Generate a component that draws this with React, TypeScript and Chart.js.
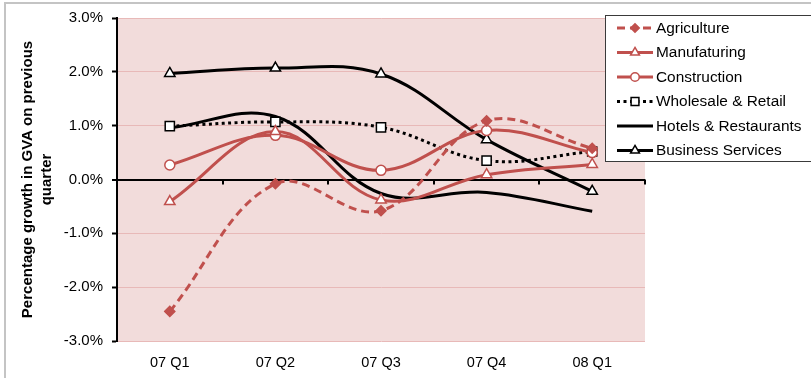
import React, { useEffect, useRef } from 'react';
import { Chart, registerables } from 'chart.js';

Chart.register(...registerables);

// Quarterly growth in gross value added, percent on previous quarter
const quarters = ['07 Q1', '07 Q2', '07 Q3', '07 Q4', '08 Q1'];
const agriculture = [-2.45, -0.08, -0.58, 1.09, 0.58];
const manufacturing = [-0.41, 0.89, -0.38, 0.09, 0.28];
const construction = [0.27, 0.82, 0.17, 0.91, 0.5];
const wholesaleRetail = [0.99, 1.07, 0.97, 0.35, 0.52];
const hotelsRestaurants = [0.96, 1.17, -0.26, -0.24, -0.59];
const businessServices = [1.97, 2.07, 1.96, 0.74, -0.22];

const yMin = -3;
const yMax = 3;
const yStep = 1;

const RED = '#c0504d';
const BLACK = '#000000';
const FONT = '"Liberation Sans", Arial, sans-serif';

type Marker = 'circle' | 'triangle' | 'rect' | 'rectRot' | false;

function drawMarker(
  ctx: CanvasRenderingContext2D,
  style: Marker,
  x: number,
  y: number,
  r: number,
  fill: string,
  stroke: string,
  lw: number
) {
  if (!style || r <= 0) return;
  ctx.save();
  ctx.setLineDash([]);
  ctx.beginPath();
  if (style === 'circle') {
    ctx.arc(x, y, r, 0, Math.PI * 2);
  } else if (style === 'triangle') {
    for (let k = 0; k < 3; k++) {
      const a = -Math.PI / 2 + (k * 2 * Math.PI) / 3;
      const px = x + Math.cos(a) * r;
      const py = y + Math.sin(a) * r;
      if (k === 0) ctx.moveTo(px, py);
      else ctx.lineTo(px, py);
    }
    ctx.closePath();
  } else if (style === 'rect') {
    const s = Math.SQRT1_2 * r;
    ctx.rect(x - s, y - s, 2 * s, 2 * s);
  } else if (style === 'rectRot') {
    ctx.moveTo(x, y - r);
    ctx.lineTo(x + r, y);
    ctx.lineTo(x, y + r);
    ctx.lineTo(x - r, y);
    ctx.closePath();
  }
  ctx.fillStyle = fill;
  ctx.fill();
  ctx.lineWidth = lw;
  ctx.strokeStyle = stroke;
  ctx.stroke();
  ctx.restore();
}

// Pink plot background and the light grey outer frame
const backgroundPlugin = {
  id: 'plotBackground',
  beforeDraw(chart: any) {
    const { ctx, chartArea } = chart;
    ctx.save();
    ctx.fillStyle = '#ffffff';
    ctx.fillRect(0, 0, chart.width, chart.height);
    ctx.strokeStyle = '#c4c4c4';
    ctx.lineWidth = 2;
    ctx.strokeRect(5, 3, chart.width + 100, chart.height + 100);
    ctx.fillStyle = '#f2dcdb';
    ctx.fillRect(chartArea.left, chartArea.top, chartArea.right - chartArea.left, chartArea.bottom - chartArea.top);
    ctx.restore();
  },
};

// Small tick marks hanging below the zero line between categories
const zeroTicksPlugin = {
  id: 'zeroTicks',
  beforeDatasetsDraw(chart: any) {
    const { ctx } = chart;
    const xs = chart.scales.x;
    const ys = chart.scales.y;
    const y0 = ys.getPixelForValue(0);
    const half = (xs.getPixelForValue(1) - xs.getPixelForValue(0)) / 2;
    ctx.save();
    ctx.strokeStyle = BLACK;
    ctx.lineWidth = 2;
    for (let i = 0; i < quarters.length; i++) {
      const x = Math.round(xs.getPixelForValue(i) + half);
      ctx.beginPath();
      ctx.moveTo(x, y0);
      ctx.lineTo(x, y0 + 5);
      ctx.stroke();
    }
    ctx.restore();
  },
};

// Boxed legend drawn over the top right of the plot
const legendPlugin = {
  id: 'boxLegend',
  afterDraw(chart: any) {
    const { ctx } = chart;
    const bx = 605.5;
    const by = 15.5;
    const bw = 220;
    const bh = 146;
    ctx.save();
    ctx.fillStyle = '#ffffff';
    ctx.fillRect(bx, by, bw, bh);
    ctx.strokeStyle = '#3a3a3a';
    ctx.lineWidth = 1;
    ctx.strokeRect(bx, by, bw, bh);
    chart.data.datasets.forEach((ds: any, i: number) => {
      const y = 28 + i * 24.5;
      ctx.beginPath();
      ctx.setLineDash(ds.borderDash || []);
      ctx.lineCap = 'butt';
      ctx.strokeStyle = ds.borderColor;
      ctx.lineWidth = ds.borderWidth;
      ctx.moveTo(617, y);
      ctx.lineTo(653, y);
      ctx.stroke();
      ctx.setLineDash([]);
      drawMarker(ctx, ds.pointStyle, 635, y, ds.pointRadius * 0.85, ds.pointBackgroundColor, ds.pointBorderColor, ds.pointBorderWidth);
      ctx.fillStyle = '#000000';
      ctx.font = `15.4px ${FONT}`;
      ctx.textBaseline = 'middle';
      ctx.textAlign = 'left';
      ctx.fillText(ds.label, 656, y + 0.5);
    });
    ctx.restore();
  },
};

function series(label: string, data: number[], color: string, style: Marker, radius: number, fill: string, dash: number[] = []) {
  return {
    label,
    data,
    borderColor: color,
    backgroundColor: color,
    borderWidth: 3,
    borderDash: dash,
    tension: 0.38,
    pointStyle: style || 'circle',
    pointRadius: style ? radius : 0,
    pointHoverRadius: style ? radius : 0,
    pointBackgroundColor: fill,
    pointBorderColor: color,
    pointBorderWidth: 1.5,
  };
}

export default function App() {
  const canvasRef = useRef<HTMLCanvasElement>(null);

  useEffect(() => {
    if (!canvasRef.current) return;
    Chart.defaults.font.family = FONT;
    const datasets: any[] = [
      series('Agriculture', agriculture, RED, 'rectRot', 5, RED, [8, 5]),
      series('Manufaturing', manufacturing, RED, 'triangle', 6, '#ffffff'),
      series('Construction', construction, RED, 'circle', 5, '#ffffff'),
      series('Wholesale & Retail', wholesaleRetail, BLACK, 'rect', 6.5, '#ffffff', [3, 3.5]),
      series('Hotels & Restaurants', hotelsRestaurants, BLACK, false, 0, BLACK),
      series('Business Services', businessServices, BLACK, 'triangle', 6, '#ffffff'),
    ];
    // hotels line is drawn without markers
    datasets[4].pointStyle = false;

    const chart = new Chart(canvasRef.current, {
      type: 'line',
      data: { labels: quarters, datasets },
      options: {
        animation: false,
        responsive: true,
        maintainAspectRatio: false,
        layout: { padding: { left: 0, right: 166, top: 17, bottom: 0 } },
        plugins: {
          legend: { display: false },
          tooltip: { enabled: false },
          title: { display: false },
        },
        scales: {
          x: {
            offset: true,
            grid: { display: false },
            border: { display: false },
            ticks: {
              color: '#000000',
              font: { size: 14.5, family: FONT },
              padding: 5,
              maxRotation: 0,
            },
            afterFit(scale: any) {
              scale.height = 37;
            },
          },
          y: {
            min: yMin,
            max: yMax,
            border: { display: true, color: BLACK, width: 2 },
            grid: {
              color: (c: any) => (c.tick && c.tick.value === 0 ? BLACK : '#e8b9b8'),
              lineWidth: (c: any) => (c.tick && c.tick.value === 0 ? 2 : 1),
              tickColor: BLACK,
              tickLength: 5,
              tickWidth: 2,
            },
            ticks: {
              stepSize: yStep,
              color: '#000000',
              font: { size: 15, family: FONT },
              padding: 9,
              callback: (v: any) => `${Number(v).toFixed(1)}%`,
            },
            title: {
              display: true,
              text: ['Percentage growth in GVA on previous', 'quarter'],
              color: '#000000',
              font: { size: 15, weight: 'bold', family: FONT, lineHeight: 1.27 },
              padding: { top: 18.5, bottom: 0 },
            },
            afterFit(scale: any) {
              scale.width = 117;
            },
          },
        },
      },
      plugins: [backgroundPlugin, zeroTicksPlugin, legendPlugin],
    } as any);

    return () => chart.destroy();
  }, []);

  return (
    <div style={{ position: 'fixed', left: 0, top: 0, width: 811, height: 378, background: '#ffffff' }}>
      <canvas ref={canvasRef} />
    </div>
  );
}
